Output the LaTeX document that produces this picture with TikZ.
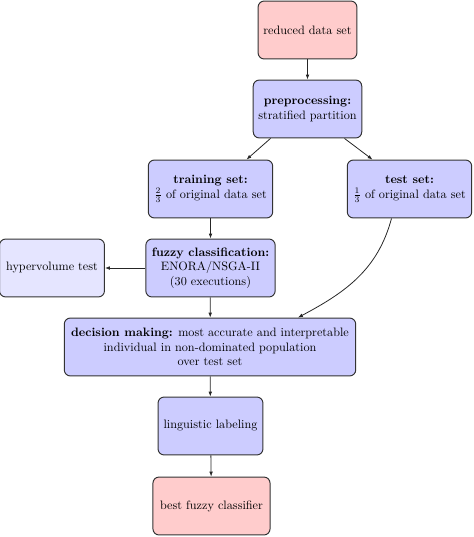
\documentclass[tikz,border=0pt]{standalone}
\usetikzlibrary{arrows.meta,calc}
\begin{document}
\begin{tikzpicture}[x=0.82pt,y=-0.82pt,
  box/.style={draw=black!80,line width=0.8pt,rounded corners=5pt,align=center,
    minimum height=47.5pt,inner sep=3pt},
  bluebox/.style={box,fill=blue!20},
  redbox/.style={box,fill=red!20},
  lightbox/.style={box,fill=blue!10},
  arr/.style={-{Latex[length=4pt,width=3pt]},line width=0.65pt,black!85}]
\useasboundingbox (0,0) rectangle (474,537);
\node[redbox,minimum width=81pt] (red) at (307.5,30) {reduced data set};
\node[bluebox,minimum width=89pt] (pre) at (307.5,109) {\textbf{preprocessing:}\\stratified partition};
\node[bluebox,minimum width=102pt] (train) at (210.5,189) {\textbf{training set:}\\$\frac{2}{3}$ of original data set};
\node[bluebox,minimum width=102pt] (test) at (409.5,189) {\textbf{test set:}\\$\frac{1}{3}$ of original data set};
\node[bluebox,minimum width=106pt] (fuzzy) at (210.5,268) {\textbf{fuzzy classification:}\\ENORA/NSGA-II\\(30 executions)};
\node[lightbox,minimum width=86pt] (hyper) at (52,268) {hypervolume test};
\node[bluebox,minimum width=239pt] (dec) at (210,347) {\textbf{decision making:} most accurate and interpretable\\individual in non-dominated population\\over test set};
\node[bluebox,minimum width=86pt] (ling) at (210.5,426) {linguistic labeling};
\node[redbox,minimum width=96pt] (best) at (211.5,506) {best fuzzy classifier};
\draw[arr] (red) -- (pre);
\draw[arr] ($(pre.south)+(-37,0)$) -- ($(train.north)+(36,0)$);
\draw[arr] ($(pre.south)+(37,0)$) -- ($(test.north)+(-37,0)$);
\draw[arr] (train) -- (fuzzy);
\draw[arr] (fuzzy) -- (hyper);
\draw[arr] (fuzzy) -- (dec);
\draw[arr] ($(test.south)+(-18,0)$) to[out=-105,in=28] ($(dec.north)+(88,0)$);
\draw[arr] (dec) -- (ling);
\draw[arr] (ling) -- (best);
\end{tikzpicture}
\end{document}
